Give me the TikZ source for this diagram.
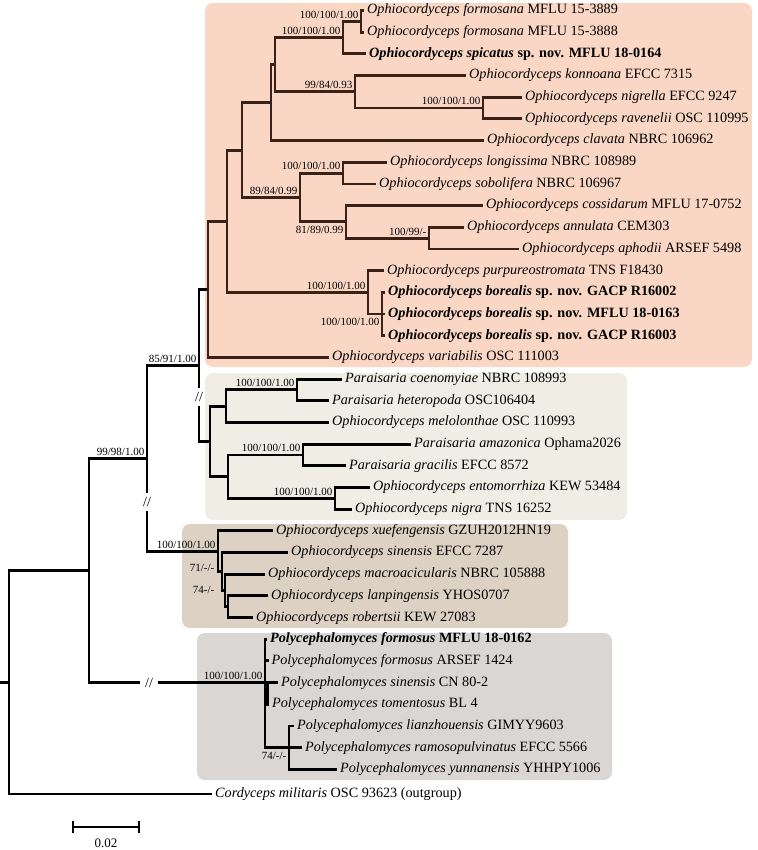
\documentclass[tikz,border=0pt]{standalone}
\usepackage{fontspec}
\setmainfont{Liberation Serif}
\usepackage{tikz}
\usetikzlibrary{positioning}
\usepackage{xcolor}
\definecolor{ophiocol}{HTML}{FAD7C5}
\definecolor{paraisariacol}{HTML}{F0EDE4}
\definecolor{sinensiscol}{HTML}{DDD1C4}
\definecolor{polycol}{HTML}{DAD6D3}
\definecolor{ophioline}{HTML}{3A2218}

\begin{document}
\begin{tikzpicture}[x=1pt, y=-1pt,
  every node/.style={inner sep=0pt},
  branch/.style={line width=2.9pt},
  leaf/.style={anchor=west, inner xsep=3pt, font=\fontsize{14.2}{16}\selectfont},
  supp/.style={anchor=south east, inner sep=1pt, xshift=-1.5pt, yshift=1.8pt, font=\fontsize{11}{12}\selectfont},
  suppb/.style={anchor=north east, inner sep=1pt, xshift=-1.5pt, yshift=-3pt, font=\fontsize{11}{12}\selectfont},
  brk/.style={fill=white, inner sep=0pt, minimum height=18pt, minimum width=9pt, font=\fontsize{14}{14}\selectfont},
  cladebox/.style={rounded corners=8pt, draw=none}]
\useasboundingbox (0,0) rectangle (757,850);

% clade boxes
\fill[cladebox, ophiocol] (205,3) rectangle (752,367);
\fill[cladebox, paraisariacol] (205,373) rectangle (627,520);
\fill[cladebox, sinensiscol] (182,524) rectangle (568,628);
\fill[cladebox, polycol] (197,633) rectangle (612,780);

% internal nodes
\coordinate (root) at (9,682.2);
\coordinate (n9998) at (89,570.4);
\coordinate (n8591) at (147,458.25);
\coordinate (nsplit) at (199,365.35);
\coordinate (ophioroot) at (208,289.3);
\coordinate (nD) at (227,221.2);
\coordinate (nC) at (242,150.1);
\coordinate (nB) at (271,102.65);
\coordinate (nA) at (275,64.7);
\coordinate (nspic) at (343,37.6);
\coordinate (nformo) at (361,21.35);
\coordinate (nkonn) at (355,91.8);
\coordinate (nnigr) at (483,108.05);
\coordinate (nE) at (300,197.5);
\coordinate (nlong) at (343,173.15);
\coordinate (nF) at (346,221.9);
\coordinate (nG) at (429,238.15);
\coordinate (nH) at (368,292.35);
\coordinate (nbor) at (382,314.0);
\coordinate (pararoot) at (210,441.4);
\coordinate (nQ2) at (226,406.15);
\coordinate (nQ1) at (297,389.9);
\coordinate (nQ5) at (228,476.6);
\coordinate (nQ3) at (303,454.95);
\coordinate (nQ4) at (335,498.3);
\coordinate (sinroot) at (218,551.15);
\coordinate (nN1) at (222,571.5);
\coordinate (nN2) at (225,590.5);
\coordinate (nN3) at (228,606.75);
\coordinate (polyroot) at (265,682.6);
\coordinate (nW) at (267.5,693.4);
\coordinate (nT) at (289,747.6);

% leaves
\node[leaf] (formosana1) at (364,10.5) {\textit{Ophiocordyceps formosana} MFLU 15-3889};
\node[leaf] (formosana2) at (364,32.2) {\textit{Ophiocordyceps formosana} MFLU 15-3888};
\node[leaf] (spicatus) at (366,53.9) {\textbf{\textit{Ophiocordyceps spicatus} sp. nov. MFLU 18-0164}};
\node[leaf] (konnoana) at (466,75.5) {\textit{Ophiocordyceps konnoana} EFCC 7315};
\node[leaf] (nigrella) at (522,97.2) {\textit{Ophiocordyceps nigrella} EFCC 9247};
\node[leaf] (ravenelii) at (522,118.9) {\textit{Ophiocordyceps ravenelii} OSC 110995};
\node[leaf] (clavata) at (484,140.6) {\textit{Ophiocordyceps clavata} NBRC 106962};
\node[leaf] (longissima) at (387,162.3) {\textit{Ophiocordyceps longissima} NBRC 108989};
\node[leaf] (sobolifera) at (376,184.0) {\textit{Ophiocordyceps sobolifera} NBRC 106967};
\node[leaf] (cossidarum) at (483,205.6) {\textit{Ophiocordyceps cossidarum} MFLU 17-0752};
\node[leaf] (annulata) at (464,227.3) {\textit{Ophiocordyceps annulata} CEM303};
\node[leaf] (aphodii) at (519,249.0) {\textit{Ophiocordyceps aphodii} ARSEF 5498};
\node[leaf] (purpureo) at (384,270.7) {\textit{Ophiocordyceps purpureostromata} TNS F18430};
\node[leaf] (borealis1) at (385,292.3) {\textbf{\textit{Ophiocordyceps borealis} sp. nov. GACP R16002}};
\node[leaf] (borealis2) at (385,314.0) {\textbf{\textit{Ophiocordyceps borealis} sp. nov. MFLU 18-0163}};
\node[leaf] (borealis3) at (385,335.7) {\textbf{\textit{Ophiocordyceps borealis} sp. nov. GACP R16003}};
\node[leaf] (variabilis) at (329,357.4) {\textit{Ophiocordyceps variabilis} OSC 111003};
\node[leaf] (coenomyiae) at (342,379.1) {\textit{Paraisaria coenomyiae} NBRC 108993};
\node[leaf] (heteropoda) at (329,400.7) {\textit{Paraisaria heteropoda} OSC106404};
\node[leaf] (melolonthae) at (329,422.4) {\textit{Ophiocordyceps melolonthae} OSC 110993};
\node[leaf] (amazonica) at (411,444.1) {\textit{Paraisaria amazonica} Ophama2026};
\node[leaf] (gracilis) at (346,465.8) {\textit{Paraisaria gracilis} EFCC 8572};
\node[leaf] (entomorrhiza) at (370,487.5) {\textit{Ophiocordyceps entomorrhiza} KEW 53484};
\node[leaf] (nigra) at (352,509.1) {\textit{Ophiocordyceps nigra} TNS 16252};
\node[leaf] (xuefengensis) at (273,530.8) {\textit{Ophiocordyceps xuefengensis} GZUH2012HN19};
\node[leaf] (sinensis) at (288,552.5) {\textit{Ophiocordyceps sinensis} EFCC 7287};
\node[leaf] (macroacic) at (265,574.2) {\textit{Ophiocordyceps macroacicularis} NBRC 105888};
\node[leaf] (lanpingensis) at (268,595.9) {\textit{Ophiocordyceps lanpingensis} YHOS0707};
\node[leaf] (robertsii) at (253,617.6) {\textit{Ophiocordyceps robertsii} KEW 27083};
\node[leaf] (pformosus1) at (267,639.2) {\textbf{\textit{Polycephalomyces formosus} MFLU 18-0162}};
\node[leaf] (pformosus2) at (268.5,660.9) {\textit{Polycephalomyces formosus} ARSEF 1424};
\node[leaf] (psinensis) at (278,682.6) {\textit{Polycephalomyces sinensis} CN 80-2};
\node[leaf] (ptomentosus) at (269,704.3) {\textit{Polycephalomyces tomentosus} BL 4};
\node[leaf] (plianzhou) at (294,726.0) {\textit{Polycephalomyces lianzhouensis} GIMYY9603};
\node[leaf] (pramoso) at (302,747.6) {\textit{Polycephalomyces ramosopulvinatus} EFCC 5566};
\node[leaf] (pyunnan) at (337,769.3) {\textit{Polycephalomyces yunnanensis} YHHPY1006};
\node[leaf] (militaris) at (212,794) {\textit{Cordyceps militaris} OSC 93623 (outgroup)};

% branches
\draw[branch] (root) -- ++(-10,0);
\draw[branch] (root) |- (n9998) (root) |- (militaris.west);
\draw[branch] (n9998) |- (n8591) (n9998) |- (polyroot);
\draw[branch] (n8591) |- (nsplit) (n8591) |- (sinroot);
\draw[branch] (nsplit) |- (ophioroot) (nsplit) |- (pararoot);
\draw[branch, ophioline] (ophioroot) |- (nD) (ophioroot) |- (variabilis.west);
\draw[branch, ophioline] (nD) |- (nC) (nD) |- (nH);
\draw[branch, ophioline] (nC) |- (nB) (nC) |- (nE);
\draw[branch, ophioline] (nB) |- (nA) (nB) |- (clavata.west);
\draw[branch, ophioline] (nA) |- (nspic) (nA) |- (nkonn);
\draw[branch, ophioline] (nspic) |- (nformo) (nspic) |- (spicatus.west);
\draw[branch, ophioline] (nformo) |- (formosana1.west) (nformo) |- (formosana2.west);
\draw[branch, ophioline] (nkonn) |- (konnoana.west) (nkonn) |- (nnigr);
\draw[branch, ophioline] (nnigr) |- (nigrella.west) (nnigr) |- (ravenelii.west);
\draw[branch, ophioline] (nE) |- (nlong) (nE) |- (nF);
\draw[branch, ophioline] (nlong) |- (longissima.west) (nlong) |- (sobolifera.west);
\draw[branch, ophioline] (nF) |- (cossidarum.west) (nF) |- (nG);
\draw[branch, ophioline] (nG) |- (annulata.west) (nG) |- (aphodii.west);
\draw[branch, ophioline] (nH) |- (purpureo.west) (nH) |- (nbor);
\draw[branch, ophioline] (nbor) |- (borealis1.west) (nbor) |- (borealis2.west) (nbor) |- (borealis3.west);
\draw[branch] (pararoot) |- (nQ2) (pararoot) |- (nQ5);
\draw[branch] (nQ2) |- (nQ1) (nQ2) |- (melolonthae.west);
\draw[branch] (nQ1) |- (coenomyiae.west) (nQ1) |- (heteropoda.west);
\draw[branch] (nQ5) |- (nQ3) (nQ5) |- (nQ4);
\draw[branch] (nQ3) |- (amazonica.west) (nQ3) |- (gracilis.west);
\draw[branch] (nQ4) |- (entomorrhiza.west) (nQ4) |- (nigra.west);
\draw[branch] (sinroot) |- (xuefengensis.west) (sinroot) |- (nN1);
\draw[branch] (nN1) |- (sinensis.west) (nN1) |- (nN2);
\draw[branch] (nN2) |- (macroacic.west) (nN2) |- (nN3);
\draw[branch] (nN3) |- (lanpingensis.west) (nN3) |- (robertsii.west);
\draw[branch] (polyroot) |- (pformosus1.west) (polyroot) |- (pformosus2.west)
  (polyroot) |- (nW) (polyroot) |- (nT);
\draw[branch] (nW) |- (psinensis.west) (nW) |- (ptomentosus.west);
\draw[branch] (nT) |- (plianzhou.west) (nT) |- (pramoso.west) (nT) |- (pyunnan.west);

% broken branches
\node[brk] (cut1) at (199,397) {//};
\node[brk] (cut2) at (147,502) {//};
\node[brk, minimum height=10pt, minimum width=18pt] (cut3) at (149,682.6) {//};

% support values
\node[supp] (s1) at (nformo) {100/100/1.00};
\node[supp] (s2) at (nspic) {100/100/1.00};
\node[supp] (s3) at (nkonn) {99/84/0.93};
\node[supp] (s4) at (nnigr) {100/100/1.00};
\node[supp] (s5) at (nlong) {100/100/1.00};
\node[supp] (s6) at (nE) {89/84/0.99};
\node[suppb] (s7) at (nF) {81/89/0.99};
\node[supp] (s8) at (nG) {100/99/-};
\node[supp] (s9) at (nH) {100/100/1.00};
\node[suppb] (s10) at (nbor) {100/100/1.00};
\node[supp] (s11) at (nsplit) {85/91/1.00};
\node[supp] (s12) at (n8591) {99/98/1.00};
\node[supp] (s13) at (nQ1) {100/100/1.00};
\node[supp] (s14) at (nQ3) {100/100/1.00};
\node[supp] (s15) at (nQ4) {100/100/1.00};
\node[supp] (s16) at (sinroot) {100/100/1.00};
\node[supp, anchor=east, yshift=0pt] (s17) at (217,570) {71/-/-};
\node[supp, anchor=east, yshift=0pt] (s18) at (217,592) {74-/-};
\node[supp] (s19) at (polyroot) {100/100/1.00};
\node[suppb] (s20) at (nT) {74/-/-};

% scale bar
\coordinate (sbl) at (73,827);
\coordinate (sbr) at (139,827);
\draw[line width=2.4pt] (sbl) -- (sbr);
\draw[line width=2.4pt] ([yshift=6pt]sbl) -- ([yshift=-6pt]sbl);
\draw[line width=2.4pt] ([yshift=6pt]sbr) -- ([yshift=-6pt]sbr);
\node[font=\fontsize{13}{14}\selectfont] (sblabel) at (106,843) {0.02};
\end{tikzpicture}
\end{document}
